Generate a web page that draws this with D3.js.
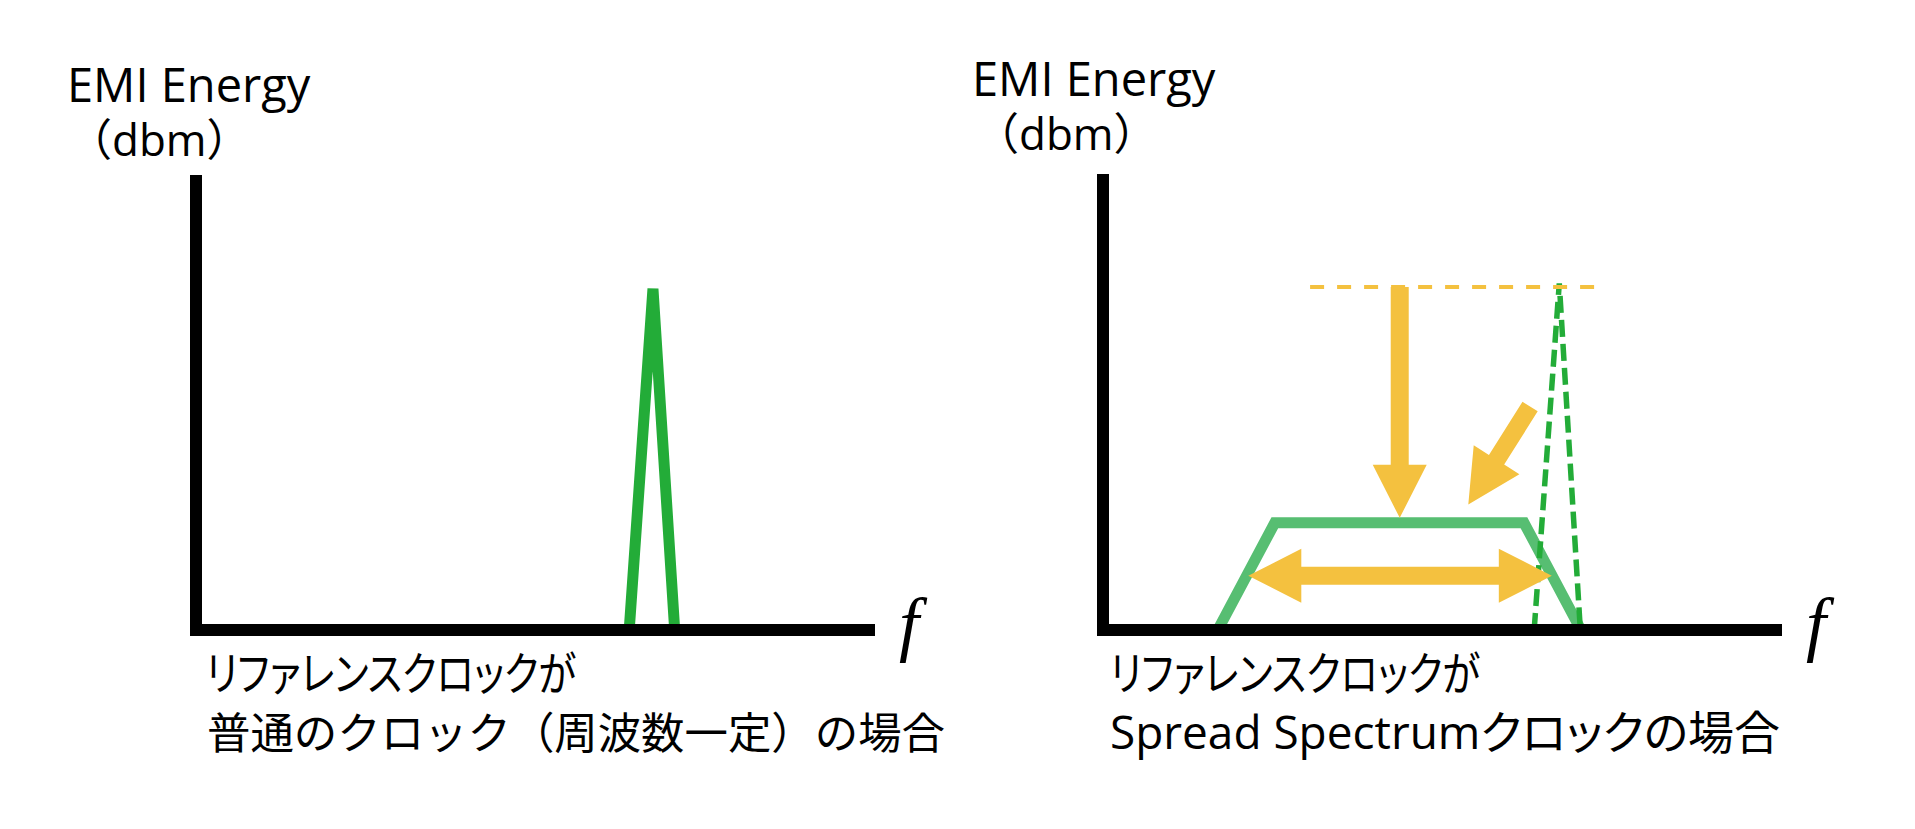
<!DOCTYPE html>
<html><head><meta charset="utf-8">
<script src="https://cdn.jsdelivr.net/npm/d3@7"></script>
<style>
html,body{margin:0;padding:0;background:#fff;overflow:hidden}
text.lab{font-family:"Open Sans","Noto Sans CJK JP",sans-serif;fill:#000}
text.palt{font-feature-settings:"palt"}
text.fx{font-family:"Liberation Serif","DejaVu Serif",serif;font-style:italic;fill:#000}
</style></head><body>
<svg id="c" width="1915" height="829"></svg>
<script>
// ---- data ----
const yAxisLabel = ["EMI Energy", "（dbm）"];
const xAxisLabel = "f";
const captionLeft = ["リファレンスクロックが", "普通のクロック（周波数一定）の場合"];
const captionRight = ["リファレンスクロックが", "Spread Spectrumクロックの場合"];
const axisFreq = [0, 0, 100];
const axisEnergy = [100, 0, 0];
const clockFreq = [63.8, 67.3, 70.5];
const clockEnergy = [0, 75, 0];
const ssFreq = [16.9, 25.3, 62.0, 70.4];
const ssEnergy = [0, 23.5, 23.5, 0];
const origFreq = [63.5, 67.2, 70.3];
const origEnergy = [0, 76, 0];
const peakLevelFreq = [30.5, 73.5];
const peakLevelEnergy = [75.2, 75.2];
const arrowDownFreq = [43.7, 43.7];
const arrowDownEnergy = [75.2, 24.6];
const arrowDiagFreq = [62.9, 53.8];
const arrowDiagEnergy = [49.0, 27.5];
const spreadFreq = [21.4, 66.1];
const spreadEnergy = [11.9, 11.9];

const GREEN = "#23ac38", LGREEN = "#57be72", ORANGE = "#f4c13f";
const svg = d3.select("#c");
svg.append("rect").attr("width",1915).attr("height",829).attr("fill","#fff");

const zip = (a,b)=>a.map((v,i)=>[v,b[i]]);

function makePanel(x0, yTop){
  const x = d3.scaleLinear().domain([0,100]).range([x0, x0+679]);
  const y = d3.scaleLinear().domain([0,100]).range([630, yTop]);
  const line = d3.line().x(d=>x(d[0])).y(d=>y(d[1]));
  return {x,y,line, g: svg.append("g")};
}

function arrowPts(p0, p1, w, hl, hw, both){
  const dx=p1[0]-p0[0], dy=p1[1]-p0[1], L=Math.hypot(dx,dy);
  const ux=dx/L, uy=dy/L, nx=-uy, ny=ux;
  const P=(t,n)=>[p0[0]+ux*t+nx*n, p0[1]+uy*t+ny*n];
  if(both) return [P(0,0),P(hl,hw/2),P(hl,w/2),P(L-hl,w/2),P(L-hl,hw/2),P(L,0),P(L-hl,-hw/2),P(L-hl,-w/2),P(hl,-w/2),P(hl,-hw/2)];
  return [P(0,w/2),P(L-hl,w/2),P(L-hl,hw/2),P(L,0),P(L-hl,-hw/2),P(L-hl,-w/2),P(0,-w/2)];
}
function drawArrow(p, fr, en, both){
  const a = zip(fr,en).map(d=>[p.x(d[0]), p.y(d[1])]);
  p.g.append("polygon").attr("points", arrowPts(a[0],a[1],18,53,54,both).map(q=>q.join(",")).join(" "))
    .attr("fill", ORANGE);
}
function drawAxes(p){
  p.g.append("path").attr("d", p.line(zip(axisFreq, axisEnergy)))
    .attr("fill","none").attr("stroke","#000").attr("stroke-width",12)
    .attr("stroke-linejoin","miter").attr("stroke-linecap","butt");
}
function txt(cls, x, y, size, s, len){
  const t = svg.append("text").attr("class",cls).attr("x",x).attr("y",y).attr("font-size",size).text(s);
  if(len) t.attr("textLength",len).attr("lengthAdjust","spacingAndGlyphs");
  return t;
}

// ---- left panel ----
const L = makePanel(196, 175);
L.g.append("path").attr("d", L.line(zip(clockFreq, clockEnergy)))
  .attr("fill","none").attr("stroke",GREEN).attr("stroke-width",11).attr("stroke-linejoin","miter");
drawAxes(L);
txt("lab", 67, 102, 47, yAxisLabel[0]);
txt("lab", 68, 156, 44, yAxisLabel[1]);
txt("fx", 899, 648, 72, xAxisLabel);
txt("lab palt", 206, 690, 46, captionLeft[0], 370);
txt("lab", 207, 749, 43.5, captionLeft[1], 738);

// ---- right panel ----
const R = makePanel(1103, 174);
R.g.append("path").attr("d", R.line(zip(ssFreq, ssEnergy)))
  .attr("fill","none").attr("stroke",LGREEN).attr("stroke-width",11).attr("stroke-linejoin","miter");
R.g.append("path").attr("d", R.line(zip(origFreq, origEnergy)))
  .attr("fill","none").attr("stroke",GREEN).attr("stroke-width",5.5).attr("stroke-dasharray","17,7");
R.g.append("path").attr("d", R.line(zip(peakLevelFreq, peakLevelEnergy)))
  .attr("fill","none").attr("stroke",ORANGE).attr("stroke-width",4).attr("stroke-dasharray","14,13");
drawArrow(R, arrowDownFreq, arrowDownEnergy, false);
drawArrow(R, arrowDiagFreq, arrowDiagEnergy, false);
drawArrow(R, spreadFreq, spreadEnergy, true);
drawAxes(R);
txt("lab", 972, 96, 47, yAxisLabel[0]);
txt("lab", 975, 150, 44, yAxisLabel[1]);
txt("fx", 1806, 648, 72, xAxisLabel);
txt("lab palt", 1110, 690, 46, captionRight[0], 370);
txt("lab palt", 1110, 749, 46, captionRight[1], 670);
</script></body></html>
